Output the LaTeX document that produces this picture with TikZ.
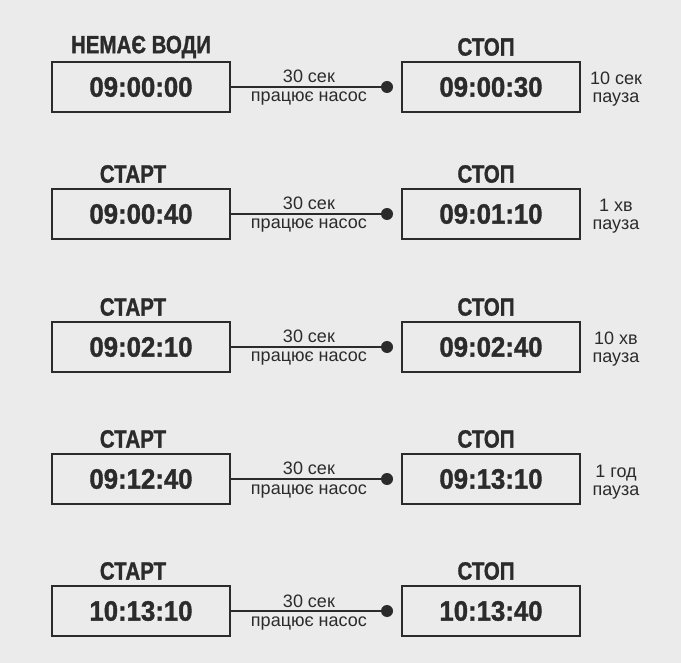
\documentclass[tikz,border=0pt]{standalone}
\usepackage{fontspec}
\setmainfont{Liberation Sans}
\newfontfamily\narrowbold[FakeStretch=0.82, FakeBold=1.2]{Liberation Sans}
\newfontfamily\timefont[FakeStretch=0.92, FakeBold=1.3]{Liberation Sans}
\usepackage{tikz}
\usetikzlibrary{calc}
\usepackage{xcolor}
\definecolor{bggray}{HTML}{EBEBEB}
\definecolor{inkgray}{HTML}{2B2B2B}

\begin{document}
\begin{tikzpicture}[x=1pt, y=-1pt,
    timebox/.style={draw=inkgray, line width=1.8pt, fill=bggray, minimum width=178pt, minimum height=50pt,
        inner sep=0pt, text=inkgray, font=\fontsize{28}{30}\selectfont\timefont\bfseries},
    titletext/.style={text=inkgray, font=\fontsize{25}{27}\selectfont\narrowbold\bfseries},
    smalltext/.style={text=inkgray, font=\fontsize{18}{20}\selectfont, inner sep=0pt, anchor=base}]
    % Background
    \fill[bggray] (0,0) rectangle (681,663);
    \useasboundingbox (0,0) rectangle (681,663);

    % Rows: start box, line with dot, stop box
    \foreach \i/\y/\ttl/\xt/\ta/\tb in {1/87/{НЕМАЄ ВОДИ}/141/09:00:00/09:00:30,
                                        2/214/СТАРТ/133/09:00:40/09:01:10,
                                        3/347/СТАРТ/133/09:02:10/09:02:40,
                                        4/479/СТАРТ/133/09:12:40/09:13:10,
                                        5/611/СТАРТ/133/10:13:10/10:13:40}{
        \node[timebox] (start\i) at (141,\y) {\ta};
        \node[timebox] (stop\i) at (491,\y) {\tb};
        \node[titletext] (ttl\i) at (\xt,\y-40) {\ttl};
        \node[titletext] (stp\i) at (486,\y-40) {СТОП};
        \coordinate (dot\i) at (387,\y);
        \draw[inkgray, line width=1.8pt] (start\i.east) -- (dot\i);
        \fill[inkgray] (dot\i) circle (6);
        \node[smalltext] (run\i) at ($(start\i.east)!0.5!(dot\i)+(0,-4)$) {30 сек};
        \node[smalltext] (pump\i) at ($(start\i.east)!0.5!(dot\i)+(0,15)$) {працює насос};
    }

    % Pauses
    \foreach \i/\y/\p in {1/87/10 сек, 2/214/1 хв, 3/347/10 хв, 4/479/1 год}{
        \node[smalltext] (pause\i) at (616,\y-2) {\p};
        \node[smalltext] (pz\i) at (616,\y+16) {пауза};
    }
\end{tikzpicture}
\end{document}
